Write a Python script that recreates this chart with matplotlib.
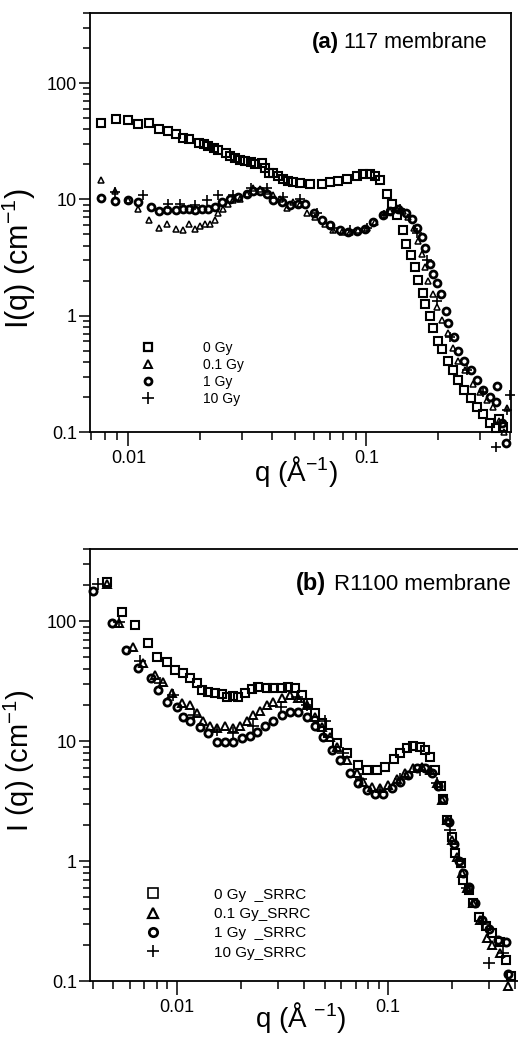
import matplotlib
matplotlib.use("Agg")
import matplotlib.pyplot as plt
import matplotlib.ticker as mticker
from matplotlib.lines import Line2D

plt.rcParams['font.family'] = ['Liberation Sans', 'DejaVu Sans']
plt.rcParams['mathtext.fontset'] = 'custom'
plt.rcParams['mathtext.rm'] = 'Liberation Sans'
plt.rcParams['mathtext.it'] = 'Liberation Sans:italic'

# ---------------- panel (a): 117 membrane ----------------
qa_0 = [0.0077, 0.0089, 0.0100, 0.0110, 0.0122, 0.0135, 0.0147, 0.0159, 0.0170, 0.0180,
        0.0199, 0.0207, 0.0217, 0.0228, 0.0239, 0.0256, 0.0268, 0.0281, 0.0295, 0.0310,
        0.0326, 0.0340, 0.0365, 0.0376, 0.0388, 0.0407, 0.0427, 0.0448, 0.0470, 0.0494,
        0.0527, 0.0580, 0.0652, 0.0705, 0.0762, 0.0830, 0.0916, 0.0970, 0.1036, 0.109,
        0.114, 0.122, 0.128, 0.135, 0.142, 0.147, 0.154, 0.160, 0.165, 0.173,
        0.177, 0.185, 0.190, 0.200, 0.208, 0.220, 0.230, 0.242, 0.256, 0.274,
        0.292, 0.310, 0.330, 0.350, 0.360, 0.375]
Ia_0 = [45.3, 49, 48, 44.5, 45.5, 40, 38.5, 36.5, 33.7, 33,
        30.5, 30, 28.9, 27.9, 26.5, 25, 23.4, 22.8, 22, 21.2,
        20.9, 20.2, 20.5, 18.7, 16.9, 16.9, 15.8, 15, 14.5, 14.2,
        13.7, 13.6, 13.6, 14, 14.5, 15.1, 15.8, 16.6, 16.6, 15.8,
        14.6, 11.2, 9.2, 7.3, 5.4, 4.15, 3.3, 2.62, 2.03, 1.58,
        1.27, 1.0, 0.79, 0.61, 0.52, 0.41, 0.34, 0.28, 0.23, 0.195,
        0.165, 0.142, 0.12, 0.108, 0.13, 0.11]

qa_01 = [0.0077, 0.0088, 0.0100, 0.0110, 0.0122, 0.0135, 0.0146, 0.0158, 0.0169, 0.0179,
         0.0191, 0.0200, 0.0210, 0.0221, 0.0232, 0.0239, 0.0251, 0.0263, 0.0276, 0.0295,
         0.0316, 0.0335, 0.0358, 0.0384, 0.0407, 0.0435, 0.0465, 0.0494, 0.0527, 0.0564,
         0.061, 0.067, 0.0725, 0.079, 0.0855, 0.092, 0.101, 0.109, 0.118, 0.126,
         0.135, 0.143, 0.150, 0.158, 0.165, 0.171, 0.177, 0.182, 0.190, 0.198,
         0.208, 0.220, 0.230, 0.243, 0.260, 0.280, 0.300, 0.320, 0.340, 0.360,
         0.380, 0.390]
Ia_01 = [14.7, 11.9, 9.8, 8.3, 6.6, 5.7, 6.2, 5.6, 5.4, 6.2,
         5.6, 5.95, 6.2, 6.2, 6.6, 7.6, 8.3, 9.2, 9.8, 10.1,
         11.1, 12.6, 12.2, 11.9, 10.8, 10.1, 8.5, 9.4, 9.2, 7.7,
         7.0, 6.2, 5.4, 5.2, 5.2, 5.4, 5.7, 6.4, 7.3, 8.0,
         8.3, 8.0, 7.0, 5.7, 4.4, 3.4, 2.6, 2.0, 1.55, 1.18,
         0.91, 0.71, 0.53, 0.41, 0.34, 0.26, 0.22, 0.19, 0.165, 0.125,
         0.10, 0.16]

qa_1 = [0.0077, 0.0088, 0.0100, 0.0110, 0.0124, 0.0135, 0.0146, 0.0158, 0.0169, 0.0179,
        0.0191, 0.0204, 0.0217, 0.0232, 0.0248, 0.0268, 0.0290, 0.0316, 0.0335, 0.0358,
        0.0384, 0.0407, 0.0443, 0.0478, 0.0518, 0.0553, 0.060, 0.065, 0.0705, 0.0775,
        0.0838, 0.0916, 0.099, 0.107, 0.117, 0.126, 0.136, 0.146, 0.156, 0.163,
        0.171, 0.177, 0.185, 0.190, 0.198, 0.205, 0.215, 0.220, 0.233, 0.243,
        0.256, 0.274, 0.292, 0.310, 0.330, 0.350, 0.355, 0.370, 0.385]
Ia_1 = [10.2, 9.6, 9.8, 9.5, 8.6, 8.0, 8.1, 8.1, 8.3, 8.2,
        8.1, 8.2, 8.3, 8.6, 9.4, 10.1, 10.4, 11.1, 11.9, 11.9,
        11.1, 9.8, 9.5, 8.9, 9.2, 9.2, 7.6, 6.6, 6.0, 5.4,
        5.2, 5.3, 5.6, 6.4, 7.3, 8.0, 8.3, 7.6, 6.8, 5.7,
        4.7, 3.8, 2.8, 2.3, 1.9, 1.55, 1.1, 0.86, 0.65, 0.5,
        0.41, 0.34, 0.28, 0.23, 0.2, 0.18, 0.25, 0.12, 0.08]

qa_10 = [0.0088, 0.0115, 0.0147, 0.0165, 0.0190, 0.0215, 0.0239, 0.0276, 0.0326, 0.0384,
         0.0448, 0.0527, 0.062, 0.0725, 0.0855, 0.101, 0.118, 0.139, 0.163, 0.180,
         0.198, 0.225, 0.264, 0.310, 0.350, 0.390, 0.400]
Ia_10 = [11.5, 10.8, 9.2, 9.2, 9.0, 9.8, 11, 11, 12.6, 12.6,
         10.4, 10.1, 7.6, 5.7, 5.4, 5.7, 7.3, 8.3, 5.1, 3.0,
         1.35, 0.65, 0.34, 0.22, 0.075, 0.155, 0.21]

labels_a = ["0 Gy", "0.1 Gy", "1 Gy", "10 Gy"]

# ---------------- panel (b): R1100 membrane ----------------
qb_0 = [0.00466, 0.0055, 0.0063, 0.0073, 0.0080, 0.0090, 0.0098, 0.0107, 0.0115, 0.0124,
        0.0131, 0.0140, 0.0151, 0.0163, 0.0173, 0.0184, 0.0195, 0.0210, 0.0227, 0.0242,
        0.0267, 0.0285, 0.0314, 0.0336, 0.0362, 0.0390, 0.0417, 0.0450, 0.0486, 0.0520,
        0.0573, 0.064, 0.072, 0.0795, 0.0887, 0.097, 0.106, 0.114, 0.123, 0.131,
        0.142, 0.150, 0.158, 0.167, 0.177, 0.182, 0.190, 0.200, 0.208, 0.220,
        0.227, 0.240, 0.253, 0.270, 0.290, 0.310, 0.340, 0.360, 0.380]
Ib_0 = [211, 119, 92.6, 65.6, 50, 46, 39, 37, 33.5, 30.5,
        26.6, 25.6, 25.1, 24.6, 23.2, 23.9, 23.5, 25, 27, 28.5,
        28, 28, 27.5, 28.5, 27.5, 24.3, 20.7, 17.1, 14.2, 11.7,
        9.6, 7.9, 6.3, 5.8, 5.8, 6.1, 7.1, 7.9, 8.7, 9.1,
        8.9, 8.4, 7.4, 5.7, 4.2, 3.3, 2.2, 1.6, 1.17, 0.96,
        0.69, 0.57, 0.45, 0.34, 0.29, 0.25, 0.21, 0.15, 0.11]

qb_01 = [0.00466, 0.0053, 0.0062, 0.0069, 0.0079, 0.0086, 0.0095, 0.0105, 0.0115, 0.0124,
         0.0133, 0.0143, 0.0155, 0.0169, 0.0184, 0.0199, 0.0214, 0.0229, 0.0247, 0.0267,
         0.0285, 0.0314, 0.0343, 0.0373, 0.0413, 0.0450, 0.0486, 0.0531, 0.0573, 0.064,
         0.0712, 0.076, 0.0837, 0.0915, 0.100, 0.110, 0.120, 0.131, 0.144, 0.158,
         0.171, 0.180, 0.190, 0.200, 0.212, 0.224, 0.236, 0.253, 0.272, 0.295,
         0.310, 0.340, 0.370]
Ib_01 = [204, 96, 60.6, 44.7, 35.5, 31, 25, 20.7, 20, 17,
         14.8, 13.5, 12.8, 13.5, 12.8, 13.5, 14.8, 16.4, 18, 20,
         21, 22.9, 24.3, 23, 20, 15.8, 13.1, 10.8, 8.9, 7.0,
         5.4, 4.6, 4.15, 4.04, 4.3, 4.8, 5.4, 6.0, 6.1, 5.7,
         4.5, 3.2, 2.2, 1.5, 1.08, 0.79, 0.6, 0.45, 0.32, 0.23,
         0.2, 0.17, 0.09]

qb_1 = [0.0040, 0.0049, 0.0057, 0.0065, 0.0075, 0.0081, 0.0090, 0.0100, 0.0107, 0.0115,
        0.0129, 0.0140, 0.0155, 0.0169, 0.0184, 0.0203, 0.0222, 0.0239, 0.0261, 0.0285,
        0.0314, 0.0343, 0.0373, 0.0413, 0.0450, 0.0490, 0.0540, 0.0592, 0.066, 0.072,
        0.0795, 0.0865, 0.0945, 0.104, 0.114, 0.124, 0.137, 0.150, 0.161, 0.173,
        0.182, 0.193, 0.204, 0.217, 0.227, 0.240, 0.258, 0.278, 0.300, 0.330,
        0.360, 0.370]
Ib_1 = [178, 96, 57, 40.5, 33.5, 26.6, 21, 19.2, 15.8, 14.8,
        13.1, 11.7, 9.8, 9.8, 9.8, 10.6, 11, 11.9, 13.5, 14.8,
        16.4, 17.5, 17.5, 15.8, 13.5, 10.8, 8.4, 7.0, 5.4, 4.45,
        3.9, 3.6, 3.6, 4.05, 4.6, 5.2, 6.0, 6.0, 5.4, 4.2,
        3.3, 2.1, 1.4, 1.0, 0.79, 0.61, 0.45, 0.32, 0.27, 0.22,
        0.21, 0.115]

qb_10 = [0.0042, 0.0053, 0.0067, 0.0083, 0.0096, 0.0120, 0.0155, 0.0184, 0.0229, 0.0310,
         0.0370, 0.0413, 0.0500, 0.061, 0.074, 0.0915, 0.114, 0.142, 0.171, 0.197,
         0.236, 0.280, 0.300, 0.350]
Ib_10 = [204, 99, 47, 30.5, 24.3, 16.4, 12.4, 11.7, 13.5, 19.2,
         23.5, 20, 14.8, 7.9, 4.8, 3.9, 4.8, 5.7, 4.5, 1.8,
         0.6, 0.3, 0.14, 0.17]

labels_b = ["0 Gy  _SRRC", "0.1 Gy_SRRC", "1 Gy  _SRRC", "10 Gy_SRRC"]

W, H = 518, 1037
fig = plt.figure(figsize=(W / 100, H / 100), dpi=100)
axA = fig.add_axes([90 / W, 1 - 432 / H, 421 / W, 419 / H])
axB = fig.add_axes([90 / W, 1 - 981 / H, 432 / W, 432 / H])

styles = [dict(marker='s', ms=5.7, mew=1.5),
          dict(marker='^', ms=4.6, mew=1.1),
          dict(marker='o', ms=5.0, mew=2.0),
          dict(marker='+', ms=7.5, mew=1.2)]
styles_b = [dict(marker='s', ms=6.2, mew=1.5),
            dict(marker='^', ms=5.8, mew=1.4),
            dict(marker='o', ms=5.2, mew=2.0),
            dict(marker='+', ms=8.0, mew=1.2)]


def plot_series(ax, qs, Is, sty):
    for q, I, st in zip(qs, Is, sty):
        ax.plot(q, I, ls='none', mfc='none', mec='black', color='black',
                clip_on=False, zorder=3, **st)


plot_series(axA, [qa_0, qa_01, qa_1, qa_10], [Ia_0, Ia_01, Ia_1, Ia_10], styles)
plot_series(axB, [qb_0, qb_01, qb_1, qb_10], [Ib_0, Ib_01, Ib_1, Ib_10], styles_b)

fmt = mticker.FuncFormatter(lambda v, p: f"{v:g}")
for ax in (axA, axB):
    ax.set_xscale('log')
    ax.set_yscale('log')
    ax.set_ylim(0.1, 400)
    ax.xaxis.set_major_locator(mticker.LogLocator(base=10))
    ax.yaxis.set_major_locator(mticker.LogLocator(base=10))
    ax.xaxis.set_minor_locator(mticker.LogLocator(base=10, subs=range(2, 10)))
    ax.yaxis.set_minor_locator(mticker.LogLocator(base=10, subs=range(2, 10)))
    ax.xaxis.set_major_formatter(fmt)
    ax.yaxis.set_major_formatter(fmt)
    ax.xaxis.set_minor_formatter(mticker.NullFormatter())
    ax.yaxis.set_minor_formatter(mticker.NullFormatter())
    ax.tick_params(axis='both', which='both', direction='out', width=1.1,
                   labelsize=13, color='black', top=False, right=False)
    ax.tick_params(axis='y', which='major', length=8, pad=1.5)
    ax.tick_params(axis='y', which='minor', length=5)
    ax.tick_params(axis='x', which='major', length=10, pad=3)
    ax.tick_params(axis='x', which='minor', length=6)
    for s in ax.spines.values():
        s.set_linewidth(1.3)

axA.set_xlim(0.0069, 0.405)
axB.set_xlim(0.00387, 0.43)
axB.spines['right'].set_visible(False)

axA.set_ylabel("I(q) (cm$^{\\mathregular{-1}}$)", fontsize=22)
axA.yaxis.set_label_coords(-0.124, 0.415)
axA.set_xlabel("q (Å$^{\\mathregular{-1}}$)", fontsize=20)
axA.xaxis.set_label_coords(0.49, -0.052)

axB.set_ylabel("I (q) (cm$^{\\mathregular{-1}}$)", fontsize=21)
axB.yaxis.set_label_coords(-0.123, 0.509)
axB.set_xlabel("q (Å $^{\\mathregular{-1}}$)", fontsize=20)
axB.xaxis.set_label_coords(0.487, -0.045)

tA = axA.text(0.943, 0.916, "117 membrane", transform=axA.transAxes,
              ha='right', va='baseline', fontsize=15.5)
axA.annotate("(a)", xy=(0, 0), xycoords=tA, xytext=(-4, 0),
             textcoords='offset points', ha='right', va='bottom',
             fontsize=16, fontweight='bold')
tB = axB.text(0.974, 0.905, "R1100 membrane", transform=axB.transAxes,
              ha='right', va='baseline', fontsize=16)
axB.annotate("(b)", xy=(0, 0), xycoords=tB, xytext=(-6, 0),
             textcoords='offset points', ha='right', va='bottom',
             fontsize=17, fontweight='bold')

leg_sty_a = [dict(marker='s', ms=6, mew=1.6), dict(marker='^', ms=5.5, mew=1.4),
             dict(marker='o', ms=5, mew=2.0), dict(marker='+', ms=8, mew=1.2)]
handles_a = [Line2D([], [], ls='none', mfc='none', mec='black', color='black', **s)
             for s in leg_sty_a]
axA.legend(handles_a, labels_a, loc='center left', bbox_to_anchor=(0.121, 0.14),
           frameon=False, fontsize=10, handlelength=1.0, handletextpad=3.45,
           labelspacing=0.2, borderpad=0, borderaxespad=0)

leg_sty_b = [dict(marker='s', ms=7, mew=1.2), dict(marker='^', ms=6.5, mew=1.6),
             dict(marker='o', ms=6, mew=2.0), dict(marker='+', ms=9, mew=1.2)]
handles_b = [Line2D([], [], ls='none', mfc='none', mec='black', color='black', **s)
             for s in leg_sty_b]
axB.legend(handles_b, labels_b, loc='center left', bbox_to_anchor=(0.128, 0.133),
           frameon=False, fontsize=11, handlelength=1.0, handletextpad=3.5,
           labelspacing=0.35, borderpad=0, borderaxespad=0)

fig.savefig("out.png", dpi=100)
